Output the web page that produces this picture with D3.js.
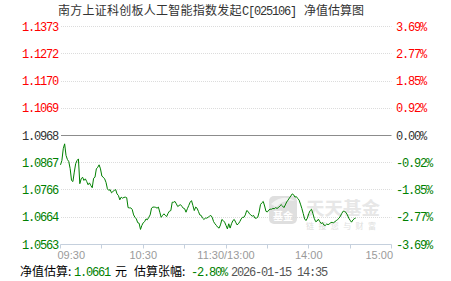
<!DOCTYPE html>
<html>
<head>
<meta charset="utf-8">
<script src="https://cdn.jsdelivr.net/npm/d3@7/dist/d3.min.js"></script>
<style>
  html, body { margin: 0; padding: 0; background: #fff; }
  svg { display: block; }
  .mono { font-family: "Liberation Mono", "DejaVu Sans Mono", monospace; font-size: 12px; letter-spacing: -1.2px; }
  .cjk { font-family: "Noto Sans CJK SC", sans-serif; font-size: 12px; }
</style>
</head>
<body>
<svg id="chart" width="451" height="281"></svg>
<script>
// estimated NAV, one value per trading minute from 09:30 (index 0) to 14:34
const navs = [
  1.0859, 1.0875, 1.0919, 1.0937, 1.0894, 1.0879, 1.0871, 1.0845, 1.0801, 1.0797,
  1.0832, 1.0863, 1.0875, 1.0881, 1.0789, 1.0807, 1.0813, 1.0801, 1.0807, 1.0797,
  1.0785, 1.0792, 1.0782, 1.0774, 1.0809, 1.0813, 1.0844, 1.0850, 1.0859, 1.0844,
  1.0817, 1.0813, 1.0807, 1.0794, 1.0770, 1.0764, 1.0767, 1.0755, 1.0760, 1.0764,
  1.0767, 1.0751, 1.0745, 1.0729, 1.0739, 1.0735, 1.0738, 1.0739, 1.0737, 1.0700,
  1.0699, 1.0699, 1.0693, 1.0673, 1.0664, 1.0658, 1.0644, 1.0642, 1.0619, 1.0634,
  1.0644, 1.0648, 1.0658, 1.0655, 1.0664, 1.0673, 1.0698, 1.0702, 1.0702, 1.0701,
  1.0698, 1.0702, 1.0683, 1.0664, 1.0671, 1.0677, 1.0671, 1.0667, 1.0679, 1.0687,
  1.0689, 1.0720, 1.0720, 1.0723, 1.0714, 1.0704, 1.0708, 1.0711, 1.0705, 1.0698,
  1.0696, 1.0683, 1.0696, 1.0708, 1.0720, 1.0726, 1.0708, 1.0689, 1.0702, 1.0698,
  1.0686, 1.0673, 1.0671, 1.0661, 1.0656, 1.0661, 1.0661, 1.0664, 1.0668, 1.0671,
  1.0664, 1.0648, 1.0640, 1.0634, 1.0627, 1.0624, 1.0636, 1.0656, 1.0652, 1.0646,
  1.0634, 1.0621, 1.0640, 1.0624, 1.0640, 1.0652, 1.0656, 1.0646, 1.0636, 1.0640,
  1.0648, 1.0658, 1.0664, 1.0664, 1.0673, 1.0689, 1.0686, 1.0677, 1.0673, 1.0668,
  1.0671, 1.0661, 1.0661, 1.0664, 1.0683, 1.0711, 1.0718, 1.0723, 1.0706, 1.0686,
  1.0684, 1.0691, 1.0694, 1.0694, 1.0697, 1.0696, 1.0700, 1.0697, 1.0700, 1.0706,
  1.0711, 1.0706, 1.0700, 1.0710, 1.0721, 1.0728, 1.0736, 1.0743, 1.0751, 1.0748,
  1.0739, 1.0741, 1.0734, 1.0728, 1.0713, 1.0697, 1.0678, 1.0658, 1.0652, 1.0661,
  1.0678, 1.0689, 1.0694, 1.0678, 1.0660, 1.0648, 1.0650, 1.0657, 1.0648, 1.0641,
  1.0644, 1.0635, 1.0634, 1.0639, 1.0637, 1.0639, 1.0645, 1.0645, 1.0644, 1.0648,
  1.0652, 1.0656, 1.0661, 1.0669, 1.0679, 1.0687, 1.0686, 1.0682, 1.0673, 1.0661,
  1.0653, 1.0646, 1.0654, 1.0659, 1.0661
];

const baseNav = 1.0968;
const navTicks = [1.1373, 1.1272, 1.1170, 1.1069, 1.0968, 1.0867, 1.0766, 1.0664, 1.0563];
const pctTicks = ["3.69%", "2.77%", "1.85%", "0.92%", "0.00%", "-0.92%", "-1.85%", "-2.77%", "-3.69%"];
const timeTicks = [0, 30, 60, 90, 120, 150, 180, 210, 240];   // trading minutes
const timeLabels = [[0, "09:30"], [60, "10:30"], [120, "11:30/13:00"], [180, "14:00"], [240, "15:00"]];

const title = "南方上证科创板人工智能指数发起";
const fundCode = "C[025106]";
const titleTail = "净值估算图";
const estNav = "1.0661";
const estPct = "-2.80%";
const estTime = "2026-01-15 14:35";

const RED = "#ff0000", GREEN = "#008000", DARK = "#333";

const svg = d3.select("#chart");

const x = d3.scaleLinear().domain([0, 240]).range([60.5, 391.5]);
const y = d3.scaleLinear().domain([1.0563, 1.1373]).range([244.5, 26.5]);

function tickColor(v) {
  if (v > baseNav) return RED;
  if (v < baseNav) return GREEN;
  return DARK;
}

// title
const t = svg.append("text").attr("y", 15).attr("fill", DARK);
t.append("tspan").attr("class", "cjk").attr("x", 58).attr("letter-spacing", 0.25).text(title);
t.append("tspan").attr("class", "mono").attr("x", 242).text(fundCode);
t.append("tspan").attr("class", "cjk").attr("x", 304).text(titleTail);

// grid lines (bottom one is covered by the axis)
svg.append("g").selectAll("line")
  .data(navTicks.slice(0, -1))
  .join("line")
  .attr("x1", 61).attr("x2", 391.5)
  .attr("y1", d => Math.round(y(d) - 0.5) + 0.5)
  .attr("y2", d => Math.round(y(d) - 0.5) + 0.5)
  .attr("stroke", d => d === baseNav ? "#8c8c8c" : "#dcdcdc")
  .attr("stroke-dasharray", d => d === baseNav ? null : "1,1")
  .attr("stroke-width", 1);

// left labels
svg.append("g").selectAll("text")
  .data(navTicks)
  .join("text")
  .attr("class", "mono")
  .attr("x", 58)
  .attr("y", d => y(d) + 4)
  .attr("text-anchor", "end")
  .attr("fill", tickColor)
  .text(d => d.toFixed(4));

// right labels
svg.append("g").selectAll("text")
  .data(pctTicks)
  .join("text")
  .attr("class", "mono")
  .attr("x", 396)
  .attr("y", (d, i) => y(navTicks[i]) + 4)
  .attr("fill", (d, i) => tickColor(navTicks[i]))
  .text(d => d);

// x axis
const axis = svg.append("g").attr("transform", "translate(0,244.5)");
axis.append("line").attr("x1", 60.5).attr("x2", 391.5).attr("stroke", "#c5d0dd");
axis.selectAll(".tk")
  .data(timeTicks)
  .join("line")
  .attr("class", "tk")
  .attr("x1", d => Math.round(x(d) - 0.5) + 0.5)
  .attr("x2", d => Math.round(x(d) - 0.5) + 0.5)
  .attr("y1", 0).attr("y2", 4)
  .attr("stroke", "#c5d0dd");
axis.selectAll("text")
  .data(timeLabels)
  .join("text")
  .attr("x", (d, i) => i === 0 ? x(d[0]) - 3 : (i === timeLabels.length - 1 ? x(d[0]) + 1.5 : x(d[0])))
  .attr("y", 14.5)
  .attr("text-anchor", (d, i) => i === 0 ? "start" : (i === timeLabels.length - 1 ? "end" : "middle"))
  .attr("font-family", "Liberation Sans, Arial, sans-serif")
  .attr("font-size", 11)
  .attr("fill", "#9a9a9a")
  .text(d => d[1]);

// watermark
const wm = svg.append("g").attr("opacity", 0.85);
wm.append("rect").attr("x", 269).attr("y", 196).attr("width", 28).attr("height", 28)
  .attr("rx", 5).attr("fill", "#dadada");
wm.append("path").attr("d", "M271,204 Q283,193 295,201 Q284,199 276,207 Z").attr("fill", "#f2f2f2");
wm.append("text").attr("x", 283).attr("y", 220).attr("text-anchor", "middle")
  .attr("font-family", "Noto Sans CJK SC").attr("font-size", 10).attr("font-weight", "bold")
  .attr("fill", "#fff").text("基金");
wm.append("text").attr("x", 306).attr("y", 214.5)
  .attr("font-family", "Noto Sans CJK SC").attr("font-size", 18.5).attr("font-weight", "bold")
  .attr("fill", "#e3e3e3").text("天天基金");
wm.append("text").attr("x", 306).attr("y", 229)
  .attr("font-family", "Noto Sans CJK SC").attr("font-size", 8).attr("letter-spacing", 4.4)
  .attr("fill", "#dadada").text("链接您与财富");

// NAV line
svg.append("path")
  .datum(navs)
  .attr("fill", "none")
  .attr("stroke", GREEN)
  .attr("stroke-width", 1)
  .attr("d", d3.line().x((d, i) => x(i)).y(d => y(d)));

// footer
const f = svg.append("text").attr("y", 276);
f.append("tspan").attr("class", "cjk").attr("x", 20).attr("fill", "#000").text("净值估算:");
f.append("tspan").attr("class", "mono").attr("x", 74).attr("fill", GREEN).text(estNav);
f.append("tspan").attr("class", "cjk").attr("x", 115).attr("fill", "#000").text("元");
f.append("tspan").attr("class", "cjk").attr("x", 134).attr("fill", "#000").text("估算张幅:");
f.append("tspan").attr("class", "mono").attr("x", 191).attr("fill", GREEN).text(estPct);
f.append("tspan").attr("class", "mono").attr("x", 231).attr("fill", "#555").text(estTime);
</script>
</body>
</html>
